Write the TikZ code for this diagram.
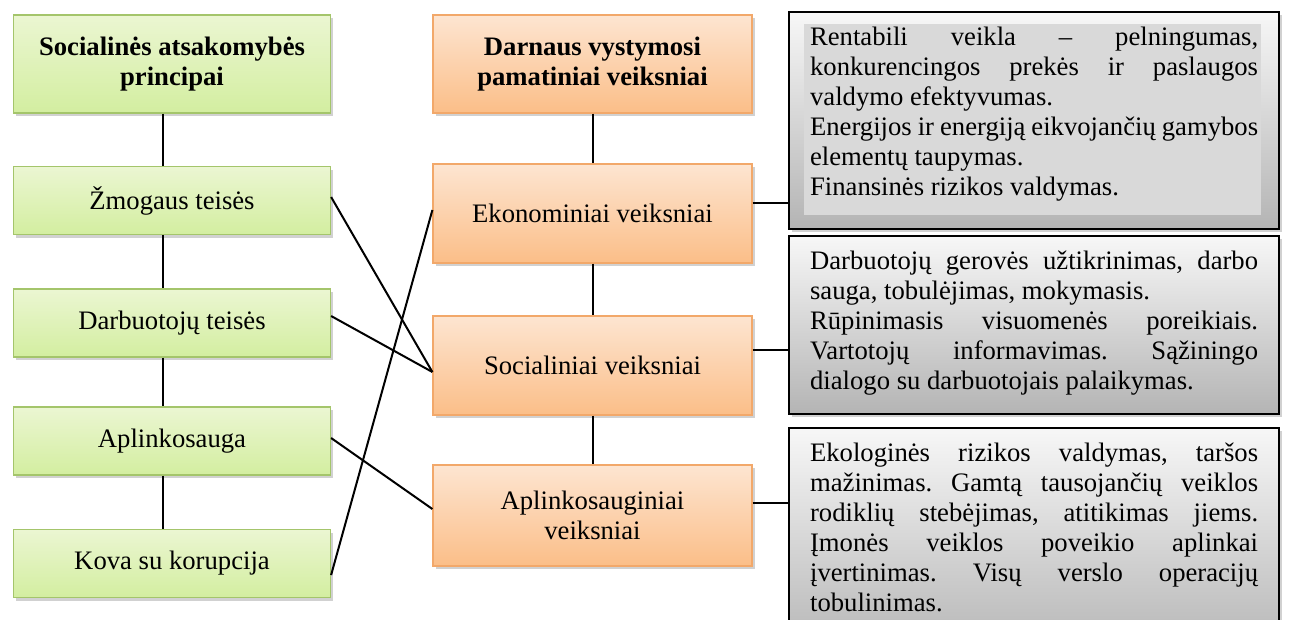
\documentclass[tikz,border=0pt,12pt]{standalone}
\usepackage{fontspec}
\setmainfont{Liberation Serif}
\usetikzlibrary{calc, shadows}
\definecolor{grtop}{HTML}{EBF6D2}
\definecolor{grbot}{HTML}{D3EEA0}
\definecolor{grline}{HTML}{A4C56B}
\definecolor{ortop}{HTML}{FDE5D1}
\definecolor{orbot}{HTML}{FBBE88}
\definecolor{orline}{HTML}{F2A86A}
\definecolor{gytop}{HTML}{F7F7F7}
\definecolor{gybot}{HTML}{B4B4B4}
\definecolor{gyin}{HTML}{D9D9D9}
\frenchspacing
\newcommand{\sidetext}[2]{\parbox[t][#1][t]{201.6pt}{\fontsize{12}{13.5}\selectfont\hyphenpenalty=10000 #2}}

\begin{document}
\begin{tikzpicture}[x=0.45pt, y=-0.45pt, line width=0.9pt,
  font=\fontsize{12}{13.5}\selectfont,
  shade/.style={drop shadow={shadow xshift=1.2pt, shadow yshift=-1.4pt, opacity=0.3, fill=black!60}},
  prinbox/.style={shade, draw=grline, line width=0.6pt, top color=grtop, bottom color=grbot,
    align=center, minimum width=142.6pt, minimum height=30.5pt},
  factbox/.style={shade, draw=orline, line width=0.6pt, top color=ortop, bottom color=orbot,
    align=center, minimum width=143.5pt, minimum height=44.6pt},
  notebox/.style={shade, draw=black, line width=1pt, top color=gytop, bottom color=gybot,
    inner xsep=9.45pt, inner ysep=6.5pt, anchor=north west},
  headfont/.style={font=\fontsize{12}{13.5}\selectfont\bfseries}]
  \useasboundingbox (0,0) rectangle (1295,619);
  \clip (0,0) rectangle (1295,619);

  % principles
  \node[prinbox, headfont, minimum height=44.1pt] (lhead) at (172,64) {Socialinės atsakomybės\\principai};
  \node[prinbox] (l1) at (172,200.5) {Žmogaus teisės};
  \node[prinbox] (l2) at (172,323) {Darbuotojų teisės};
  \node[prinbox] (l3) at (172,441) {Aplinkosauga};
  \node[prinbox] (l4) at (172,563.5) {Kova su korupcija};

  % factors
  \node[factbox, headfont, minimum height=44.1pt] (fhead) at (592.5,64) {Darnaus vystymosi\\pamatiniai veiksniai};
  \node[factbox] (f1) at (592.5,213.5) {Ekonominiai veiksniai};
  \node[factbox] (f2) at (592.5,365.5) {Socialiniai veiksniai};
  \node[factbox, minimum height=45.4pt] (f3) at (592.5,515.5) {Aplinkosauginiai\\veiksniai};

  % notes
  \node[notebox, path picture={\fill[gyin] ($(path picture bounding box.north west)+(15,12)$)
    rectangle ($(path picture bounding box.south east)+(-18,-14)$);}] (n1) at (788,11)
    {\sidetext{84.6pt}{Rentabili veikla – pelningumas,\linebreak konkurencingos prekės ir paslaugos\linebreak
     valdymo efektyvumas.\par Energijos ir energiją eikvojančių gamybos\linebreak elementų taupymas.\par
     Finansinės rizikos valdymas.}};
  \node[notebox] (n2) at (788,235)
    {\sidetext{67pt}{Darbuotojų gerovės užtikrinimas, darbo\linebreak sauga, tobulėjimas, mokymasis.\par
     Rūpinimasis visuomenės poreikiais.\linebreak Vartotojų informavimas. Sąžiningo\linebreak
     dialogo su darbuotojais palaikymas.}};
  \node[notebox] (n3) at (788,427)
    {\sidetext{90.5pt}{Ekologinės rizikos valdymas, taršos\linebreak mažinimas. Gamtą tausojančių veiklos\linebreak
     rodiklių stebėjimas, atitikimas jiems.\linebreak Įmonės veiklos poveikio aplinkai\linebreak
     įvertinimas. Visų verslo operacijų\linebreak tobulinimas.}};

  % columns
  \draw ($(lhead.south)+(-9,0)$) -- ($(l1.north)+(-9,0)$);
  \draw ($(l1.south)+(-9,0)$) -- ($(l2.north)+(-9,0)$);
  \draw ($(l2.south)+(-9,0)$) -- ($(l3.north)+(-9,0)$);
  \draw ($(l3.south)+(-9,0)$) -- ($(l4.north)+(-9,0)$);
  \draw (fhead) -- (f1);
  \draw (f1) -- (f2);
  \draw (f2) -- (f3);

  % cross links
  \draw ($(l1.east)+(0,-3.5)$) -- ($(f2.west)+(0,6.5)$);
  \draw ($(l2.east)+(0,-7)$) -- ($(f2.west)+(0,6.5)$);
  \draw ($(l3.east)+(0,-3)$) -- ($(f3.west)+(0,-6.5)$);
  \draw ($(l4.east)+(0,11.5)$) -- ($(f1.west)+(0,-3.5)$);

  % to notes
  \draw ($(f1.east)+(0,-10.5)$) coordinate (e1) -- (e1 -| n1.west);
  \draw ($(f2.east)+(0,-15.5)$) coordinate (e2) -- (e2 -| n2.west);
  \draw ($(f3.east)+(0,-12.5)$) coordinate (e3) -- (e3 -| n3.west);
\end{tikzpicture}
\end{document}
